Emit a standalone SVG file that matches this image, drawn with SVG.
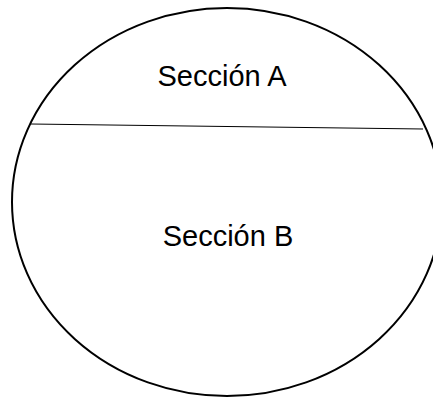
<svg xmlns="http://www.w3.org/2000/svg" width="433" height="398" viewBox="0 0 433 398">
<style>
.shape{fill:#fff;stroke:#000;stroke-width:2}
.div{stroke:#000;stroke-width:1;fill:none}
.lbl{font-family:"Liberation Sans",Arial,sans-serif;font-size:29px;fill:#000;text-anchor:middle}
</style>
<rect width="433" height="398" fill="#fff"/>
<g id="ellipse">
<ellipse class="shape" cx="227" cy="202" rx="215" ry="194"/>
</g>
<g id="connectors">
<line class="div" x1="31" y1="124" x2="423" y2="129"/>
</g>
<g id="seccion-a">
<text class="lbl" x="222" y="86">Sección A</text>
</g>
<g id="seccion-b">
<text class="lbl" x="228" y="246">Sección B</text>
</g>
</svg>
